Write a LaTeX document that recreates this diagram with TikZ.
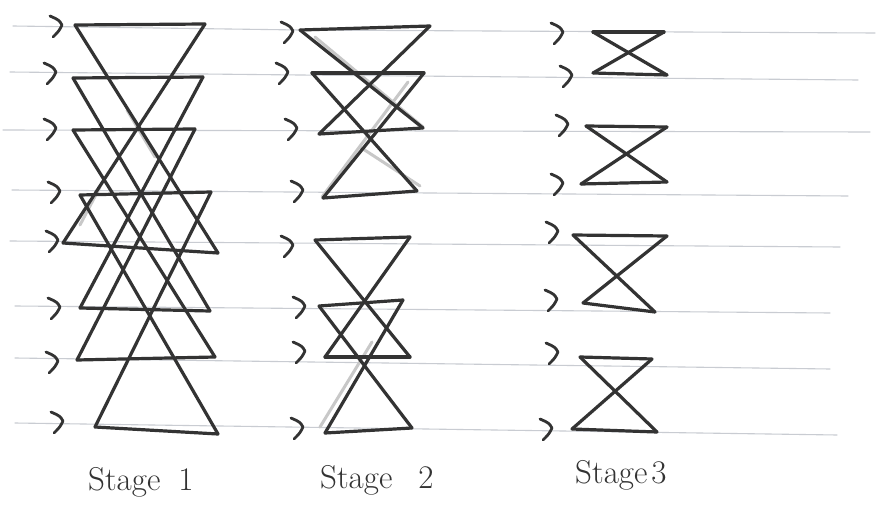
\documentclass[tikz,border=0pt]{standalone}
\begin{document}
\definecolor{inkc}{HTML}{333333}
\definecolor{rulec}{HTML}{C9CCD2}
\definecolor{ghostc}{HTML}{C8C8C8}
\begin{tikzpicture}[x=1pt,y=-1pt,
  ink/.style={draw=inkc, line width=3.2pt, line cap=round, line join=round},
  rule/.style={draw=rulec, line width=1.1pt, line cap=round},
  ghost/.style={draw=ghostc, line width=3pt, line cap=round},
  lab/.style={font=\fontsize{33}{38}\selectfont, text=inkc, inner sep=0pt, anchor=base west},
  chev/.pic={\draw[ink, line width=2.8pt] (-12,-9) .. controls (-3,-5) .. (0,0) .. controls (-3,6) .. (-9,12);}
]
\useasboundingbox[fill=white] (0,0) rectangle (876,511);

% ruled notebook lines
\draw[rule] (13,26) -- (300,30) -- (875,33);
\draw[rule] (10,72) -- (300,75) -- (858,80);
\draw[rule] (3,130) -- (870,132);
\draw[rule] (12,190) -- (848,196);
\draw[rule] (10,241) -- (840,247);
\draw[rule] (15,306) -- (830,313);
\draw[rule] (15,358) -- (830,369);
\draw[rule] (15,423) -- (837,435);

% ---------- Stage 1 coordinates
\coordinate (aL0) at (75,25);  \coordinate (aR0) at (205,24);
\coordinate (aL1) at (73,78);  \coordinate (aR1) at (203,77);
\coordinate (aL2) at (73,130); \coordinate (aR2) at (195,129);
\coordinate (aL3) at (80,195); \coordinate (aR3) at (211,192);
\coordinate (aL4) at (63,243); \coordinate (aR4) at (218,253);
\coordinate (aL5) at (80,308); \coordinate (aR5) at (210,311);
\coordinate (aL6) at (77,360); \coordinate (aR6) at (215,357);
\coordinate (aL7) at (95,427); \coordinate (aR7) at (218,434);

% ---------- Stage 2 coordinates
\coordinate (bL0) at (300,30);  \coordinate (bR0) at (430,26);
\coordinate (bL1) at (312,73);  \coordinate (bR1) at (424,73);
\coordinate (bL2) at (319,134); \coordinate (bR2) at (423,128);
\coordinate (bL3) at (323,198); \coordinate (bR3) at (417,191);
\coordinate (bL4) at (315,240); \coordinate (bR4) at (410,237);
\coordinate (bL5) at (319,306); \coordinate (bR5) at (403,300);
\coordinate (bL6) at (325,357); \coordinate (bR6) at (410,357);
\coordinate (bL7) at (325,433); \coordinate (bR7) at (412,428);

% ---------- Stage 3 coordinates
\coordinate (cL0) at (593,32);  \coordinate (cR0) at (664,32);
\coordinate (cL1) at (593,73);  \coordinate (cR1) at (667,75);
\coordinate (cL2) at (586,126); \coordinate (cR2) at (667,127);
\coordinate (cL3) at (581,184); \coordinate (cR3) at (667,182);
\coordinate (cL4) at (573,235); \coordinate (cR4) at (667,236);
\coordinate (cL5) at (583,303); \coordinate (cR5) at (655,312);
\coordinate (cL6) at (580,357); \coordinate (cR6) at (652,359);
\coordinate (cL7) at (572,429); \coordinate (cR7) at (657,432);

% faint pencil shadows
\draw[ghost] (315,37) -- (423,127);
\draw[ghost] (322,197) -- (408,82);
\draw[ghost] (360,147) -- (420,186);
\draw[ghost] (320,427) -- (372,342);
\draw[ghost] (127,110) -- (155,157);
\draw[ghost] (80,225) -- (100,187);

% ---------- Stage 1 butterflies
\foreach \i in {0,...,7} { \draw[ink] (aL\i) -- (aR\i); }
\foreach \i/\j in {0/4,1/5,2/6,3/7} {
  \draw[ink] (aL\i) -- (aR\j);
  \draw[ink] (aL\j) -- (aR\i);
}

% ---------- Stage 2 butterflies
\foreach \i in {0,...,7} { \draw[ink] (bL\i) -- (bR\i); }
\foreach \i/\j in {0/2,1/3,4/6,5/7} {
  \draw[ink] (bL\i) -- (bR\j);
  \draw[ink] (bL\j) -- (bR\i);
}

% ---------- Stage 3 butterflies
\foreach \i in {0,...,7} { \draw[ink] (cL\i) -- (cR\i); }
\foreach \i/\j in {0/1,2/3,4/5,6/7} {
  \draw[ink] (cL\i) -- (cR\j);
  \draw[ink] (cL\j) -- (cR\i);
}

% ---------- input chevrons
\foreach \p in {(62,25),(56,72),(56,128),(60,191),(58,240),(60,307),(58,361),(63,421)} { \pic at \p {chev}; }
\foreach \p in {(293,31),(288,72),(297,128),(303,190),(293,245),(305,306),(305,351),(303,427)} { \pic at \p {chev}; }
\foreach \p in {(563,32),(572,75),(568,124),(563,183),(558,231),(557,299),(558,352),(552,428)} { \pic at \p {chev}; }

% ---------- labels
\node[lab] (lab1) at (88,490) {Stage\hspace{18pt}1};
\node[lab] (lab2) at (320,488) {Stage\hspace{26pt}2};
\node[lab] (lab3) at (575,483) {Stage\hspace{4pt}3};
\end{tikzpicture}
\end{document}
